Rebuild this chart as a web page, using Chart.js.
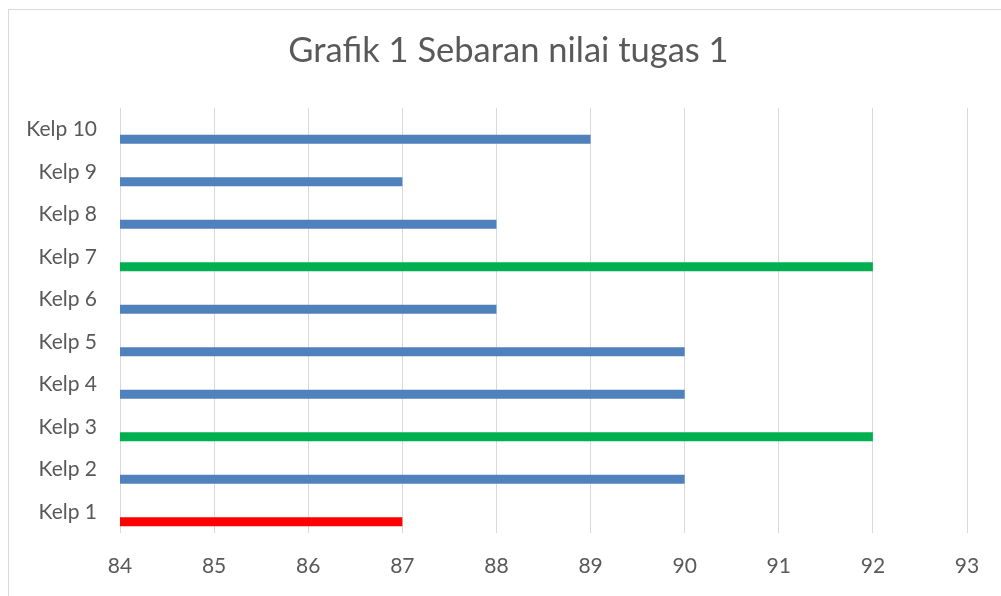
<!DOCTYPE html>
<html><head><meta charset="utf-8">
<script src="https://cdn.jsdelivr.net/npm/chart.js@4"></script>
<style>
html,body{margin:0;padding:0;background:#fff;overflow:hidden}
#wrap{position:relative;width:1001px;height:596px;overflow:hidden}
#frame{position:absolute;left:8px;top:9px;width:1100px;height:700px;border:1px solid #d9d9d9;box-sizing:border-box}
canvas{position:absolute;left:0;top:0}
</style></head>
<body><div id="wrap"><div id="frame"></div><canvas id="c" width="1001" height="596"></canvas></div>
<script>
const categories = ['Kelp 1','Kelp 2','Kelp 3','Kelp 4','Kelp 5','Kelp 6','Kelp 7','Kelp 8','Kelp 9','Kelp 10'];
const values = [87, 90, 92, 90, 90, 88, 92, 88, 87, 89];
const barColors = ['#FF0000','#4F81BD','#00B050','#4F81BD','#4F81BD','#4F81BD','#00B050','#4F81BD','#4F81BD','#4F81BD'];
const xTicks = [84, 85, 86, 87, 88, 89, 90, 91, 92, 93];
const titleText = 'Grafik 1 Sebaran nilai tugas 1';

const FONT = 'Lato';

// Title centred on the chart frame (Excel-style), drawn as canvas text
const frameTitle = {
  id: 'frameTitle',
  afterDraw(chart) {
    const ctx = chart.ctx;
    ctx.save();
    ctx.font = '34.5px ' + FONT;
    ctx.fillStyle = '#595959';
    ctx.textAlign = 'center';
    ctx.textBaseline = 'middle';
    ctx.fillText(titleText, 508.5, 51);
    ctx.restore();
  }
};

new Chart(document.getElementById('c'), {
  type: 'bar',
  data: {
    labels: categories,
    datasets: [
      { label: '', data: categories.map(() => null), backgroundColor: 'transparent' },
      { label: 'Nilai', data: values, backgroundColor: barColors, borderWidth: 0 }
    ]
  },
  options: {
    indexAxis: 'y',
    responsive: false,
    animation: false,
    devicePixelRatio: 1,
    categoryPercentage: 0.941,
    barPercentage: 0.45,
    layout: { padding: { left: 0, right: 34, top: 108, bottom: 0 } },
    plugins: {
      legend: { display: false },
      tooltip: { enabled: false },
      title: { display: false }
    },
    scales: {
      x: {
        type: 'linear',
        min: xTicks[0], max: xTicks[xTicks.length - 1],
        afterBuildTicks: s => { s.ticks = xTicks.map(v => ({ value: v })); },
        afterFit: s => { s.height = 63; },
        grid: { color: '#d9d9d9', lineWidth: 1, drawTicks: false },
        border: { display: false },
        ticks: { color: '#595959', font: { family: FONT, size: 21 }, padding: 21 }
      },
      y: {
        reverse: true,
        afterFit: s => { s.width = 120; },
        grid: { display: false, drawTicks: false },
        border: { display: false },
        ticks: { color: '#595959', font: { family: FONT, size: 21 }, padding: 23 }
      }
    }
  },
  plugins: [frameTitle]
});
</script>
</body></html>
